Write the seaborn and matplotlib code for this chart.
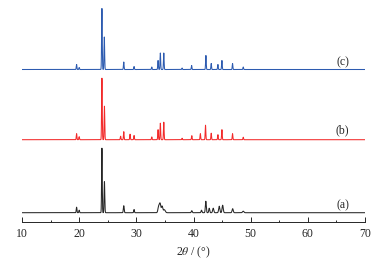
import matplotlib
matplotlib.use("Agg")
import matplotlib.pyplot as plt
import seaborn as sns
import numpy as np
import pandas as pd
from matplotlib.ticker import MultipleLocator

# peak positions (2theta, deg) and heights
pos_a = [19.55, 20.0, 23.98, 24.42, 27.8, 29.6, 33.9, 34.15, 34.5, 34.9, 39.7, 41.4, 42.15, 42.75, 43.45, 44.5, 45.1, 46.85, 48.7]
hgt_a = [5.5, 2.5, 64.5, 31.0, 7.0, 3.2, 6.0, 9.0, 6.5, 3.0, 2.0, 2.5, 11.5, 4.5, 4.5, 6.5, 7.5, 4.0, 1.5]
wid_a = [0.06, 0.06, 0.055, 0.06, 0.07, 0.06, 0.12, 0.12, 0.12, 0.16, 0.08, 0.08, 0.08, 0.08, 0.1, 0.1, 0.1, 0.1, 0.12]

pos_b = [19.55, 20.0, 23.98, 24.42, 27.25, 27.8, 28.9, 29.6, 32.7, 33.8, 34.2, 34.8, 38.0, 39.7, 41.2, 42.1, 43.1, 44.27, 44.97, 46.83, 48.7]
hgt_b = [6.0, 3.0, 61.5, 33.5, 3.5, 8.0, 5.5, 4.2, 2.8, 10.0, 16.5, 17.5, 1.5, 4.0, 6.0, 14.5, 6.5, 5.0, 10.0, 6.0, 2.5]
wid_b = [0.055] * len(pos_b)

pos_c = [19.55, 20.0, 23.98, 24.4, 27.8, 29.6, 32.7, 33.8, 34.2, 34.8, 38.0, 39.67, 42.17, 43.1, 44.27, 44.97, 46.83, 48.7]
hgt_c = [5.0, 2.0, 61.0, 32.5, 7.5, 3.0, 2.5, 9.0, 16.5, 16.5, 1.5, 4.0, 14.0, 6.0, 5.0, 9.0, 6.0, 2.5]
wid_c = [0.055] * len(pos_c)

offsets = {"a": 0.0, "b": 73.0, "c": 143.2}
colors = {"a": "#262626", "b": "#f22a2a", "c": "#2d5bb0"}
labels = {"a": "(a)", "b": "(b)", "c": "(c)"}
label_y = {"a": 7.7, "b": 82.7, "c": 150.7}

tt = np.linspace(10, 70, 6001)


def profile(pos, hgt, wid):
    y = np.zeros_like(tt)
    for p, h, w in zip(pos, hgt, wid):
        y += h * np.exp(-0.5 * ((tt - p) / w) ** 2)
    return y


frames = []
for key, (p, h, w) in {"a": (pos_a, hgt_a, wid_a),
                       "b": (pos_b, hgt_b, wid_b),
                       "c": (pos_c, hgt_c, wid_c)}.items():
    frames.append(pd.DataFrame({"x": tt, "y": profile(p, h, w) + offsets[key], "s": key}))
df = pd.concat(frames, ignore_index=True)

sns.set_style("ticks")
plt.rcParams["font.family"] = ["Liberation Serif", "DejaVu Serif"]
plt.rcParams["mathtext.fontset"] = "stix"

fig = plt.figure(figsize=(3.9, 2.61), dpi=100)
ax = fig.add_axes([22 / 390, 1 - 222 / 261, 343 / 390, 222 / 261])

sns.lineplot(data=df, x="x", y="y", hue="s", palette=colors, linewidth=0.75,
             legend=False, ax=ax, sort=False, estimator=None)

for key in ["a", "b", "c"]:
    ax.text(66.1, label_y[key], labels[key], ha="center", va="center", fontsize=8.5)

ax.set_xlim(10, 70)
ax.set_ylim(-9.3, 212.7)
ax.xaxis.set_major_locator(MultipleLocator(10))
ax.xaxis.set_minor_locator(MultipleLocator(5))
ax.tick_params(axis="x", which="major", direction="in", length=3.5, width=0.7, labelsize=8.5, pad=4)
ax.tick_params(axis="x", which="minor", direction="in", length=1.8, width=0.7)
ax.set_yticks([])
ax.set_ylabel("")
ax.set_xlabel("2$\\theta$ / (°)", fontsize=8.5, labelpad=3.5)
for s in ["left", "top", "right"]:
    ax.spines[s].set_visible(False)
ax.spines["bottom"].set_linewidth(0.7)
ax.patch.set_alpha(0)

fig.savefig("out.png", dpi=100)
